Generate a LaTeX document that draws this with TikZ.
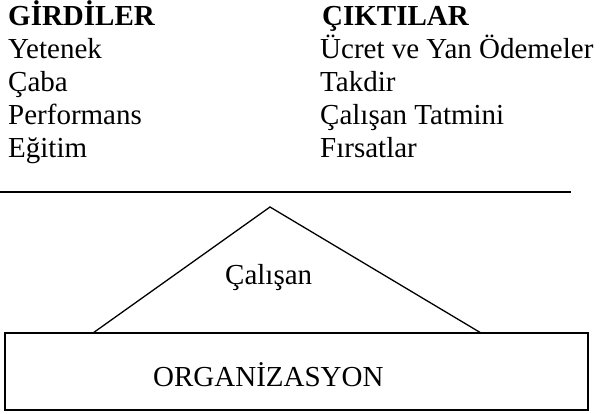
\documentclass[tikz,border=0pt]{standalone}
\usepackage{fontspec}
\setmainfont{Liberation Serif}
\begin{document}
\begin{tikzpicture}[x=1pt,y=-1pt,
  txt/.style={anchor=base west,inner sep=0pt,font=\fontsize{29}{33}\selectfont},
  hdr/.style={txt,font=\fontsize{29}{33}\selectfont\bfseries},
  ln/.style={line width=1.6pt},
  thin/.style={line width=1.3pt}]
\useasboundingbox (0,0) rectangle (600,414);
% left column
\node[hdr] (gir) at (8,26) {GİRDİLER};
\node[txt] (g1) at (8,59) {Yetenek};
\node[txt] (g2) at (8,92) {Çaba};
\node[txt] (g3) at (8,125) {Performans};
\node[txt] (g4) at (8,158) {Eğitim};
% right column
\node[hdr] (cik) at (322,26) {ÇIKTILAR};
\node[txt] (c1) at (320,59) {Ücret ve Yan Ödemeler};
\node[txt] (c2) at (320,92) {Takdir};
\node[txt] (c3) at (320,125) {Çalışan Tatmini};
\node[txt] (c4) at (320,158) {Fırsatlar};
% separator
\coordinate (sepL) at (0,192);
\coordinate (sepR) at (571,192);
\draw[ln] (sepL) -- (sepR);
% triangle
\coordinate (apex) at (270,207);
\coordinate (tl) at (93,333);
\coordinate (tr) at (481,333);
\draw[thin] (tl) -- (apex) -- (tr);
\node[txt] (cal) at (225,285) {Çalışan};
% box
\draw[ln] (5,333) rectangle (588,410);
\node[txt] (org) at (153,386) {ORGANİZASYON};
\end{tikzpicture}
\end{document}
